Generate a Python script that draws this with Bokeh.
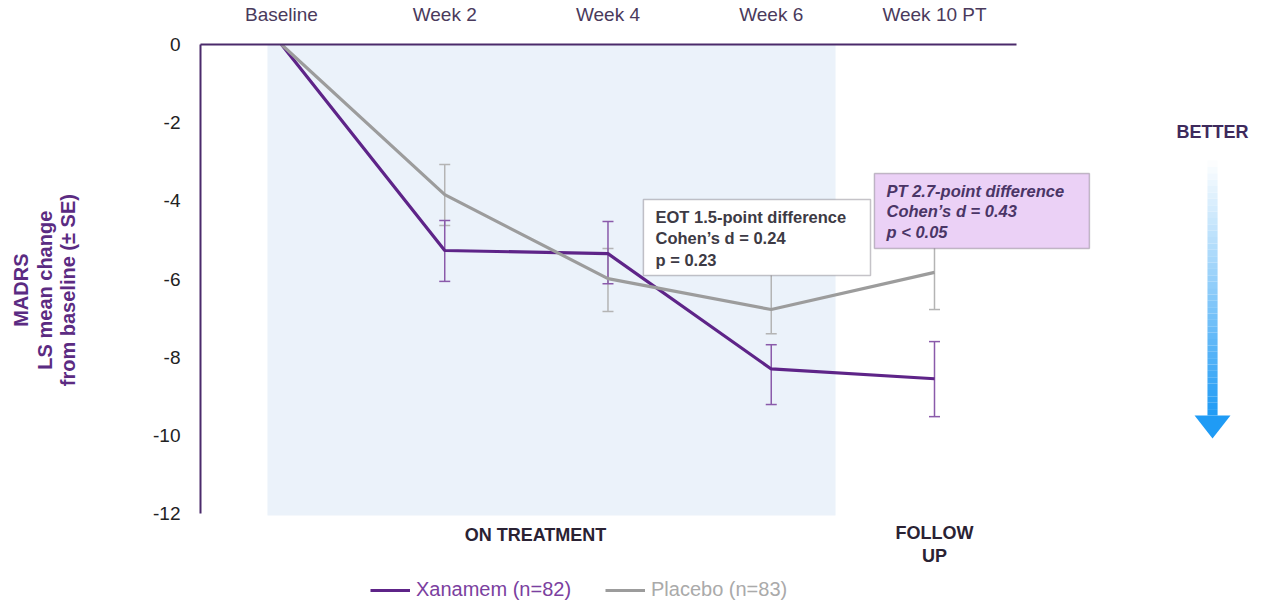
import math
from bokeh.plotting import figure
from bokeh.layouts import row
from bokeh.models import (Range1d, FixedTicker, BoxAnnotation, Label, Legend, LegendItem)
from bokeh.core.properties import value
from bokeh.embed import file_html
from bokeh.resources import INLINE

nan = float("nan")

# ---- data ----
visits = ["Baseline", "Week 2", "Week 4", "Week 6", "Week 10 PT"]
visit_x = [0, 1, 2, 3, 4]

xanamem_mean = [0.0, -5.27, -5.35, -8.30, -8.55]
xanamem_upper = [nan, -4.50, -4.53, -7.68, -7.60]
xanamem_lower = [nan, -6.06, -6.12, -9.21, -9.52]

placebo_mean = [0.0, -3.84, -5.99, -6.78, -5.83]
placebo_upper = [nan, -3.07, -5.22, -5.80, -4.88]
placebo_lower = [nan, -4.63, -6.83, -7.40, -6.78]

y_ticks = [0, -2, -4, -6, -8, -10, -12]
y_title = ["MADRS", "LS mean change", "from baseline (\u00b1 SE)"]

PURPLE = "#5e2488"
PURPLE_ERR = "#8a5aaa"
GRAY = "#9c9c9c"
GRAY_ERR = "#b4b4b4"
SANS = "Liberation Sans, Arial, sans-serif"

LEFT_W = 80

# ---- y-axis title panel ----
pl = figure(width=LEFT_W, height=603, output_backend="svg", toolbar_location=None,
            x_range=Range1d(0, LEFT_W), y_range=Range1d(0, 603),
            x_axis_type=None, y_axis_type=None, min_border=0)
pl.outline_line_color = None
pl.xgrid.visible = False
pl.ygrid.visible = False
pl.text(x=[20, 44, 67], y=[338, 338, 338], text=y_title, angle=math.pi / 2,
        text_font=value(SANS), text_font_style="bold", text_font_size="20px",
        text_color="#5b2b82", text_align="center", text_baseline="middle")

# ---- main chart ----
p = figure(width=1261 - LEFT_W, height=603, output_backend="svg", toolbar_location=None,
           x_range=Range1d(-0.496, 6.003), y_range=Range1d(-14.30, 0.0),
           x_axis_location="above",
           min_border_left=200 - LEFT_W, min_border_right=0, min_border_top=44,
           min_border_bottom=0)
p.outline_line_color = None
p.xgrid.visible = False
p.ygrid.visible = False
p.background_fill_color = "white"

xa = p.xaxis[0]
xa.ticker = FixedTicker(ticks=visit_x)
xa.major_label_overrides = {v: s for v, s in zip(visit_x, visits)}
xa.bounds = (-0.5, 4.5)
xa.axis_line_color = "#4b2a6b"
xa.axis_line_width = 2
xa.major_tick_line_color = None
xa.minor_tick_line_color = None
xa.major_label_standoff = 14
xa.major_label_text_font = SANS
xa.major_label_text_font_size = "19px"
xa.major_label_text_color = "#4a3a5c"

ya = p.yaxis[0]
ya.ticker = FixedTicker(ticks=y_ticks)
ya.major_label_overrides = {v: str(v) for v in y_ticks}
ya.bounds = (-12, 0)
ya.axis_line_color = "#4b2a6b"
ya.axis_line_width = 2
ya.major_tick_line_color = None
ya.minor_tick_line_color = None
ya.major_label_standoff = 14
ya.major_label_text_font = SANS
ya.major_label_text_font_size = "19px"
ya.major_label_text_color = "#222222"

# shaded on-treatment region
p.add_layout(BoxAnnotation(left=-0.086, right=3.394, top=0, bottom=-12.05,
                           fill_color="#ebf2fa", fill_alpha=1.0, line_color=None,
                           level="underlay"))

# error bars
p.segment(visit_x, placebo_upper, visit_x, placebo_lower, line_color=GRAY_ERR, line_width=1.5)
p.dash(visit_x, placebo_upper, size=11, line_color=GRAY_ERR, line_width=1.5)
p.dash(visit_x, placebo_lower, size=11, line_color=GRAY_ERR, line_width=1.5)
p.segment(visit_x, xanamem_upper, visit_x, xanamem_lower, line_color=PURPLE_ERR, line_width=1.5)
p.dash(visit_x, xanamem_upper, size=11, line_color=PURPLE_ERR, line_width=1.5)
p.dash(visit_x, xanamem_lower, size=11, line_color=PURPLE_ERR, line_width=1.5)

# lines
r_x = p.line(visit_x, xanamem_mean, line_color=PURPLE, line_width=3.2)
r_p = p.line(visit_x, placebo_mean, line_color=GRAY, line_width=3.2)

# annotation boxes
p.add_layout(BoxAnnotation(left=2.217, right=3.608, top=-3.966, bottom=-5.91,
                           fill_color="white", fill_alpha=1.0,
                           line_color="#3e3848", line_width=1.5))
p.add_layout(BoxAnnotation(left=3.632, right=4.949, top=-3.30, bottom=-5.22,
                           fill_color="#ebd1f6", fill_alpha=1.0,
                           line_color="#45404c", line_width=1.5))

eot_lines = ["EOT 1.5-point difference", "Cohen\u2019s d = 0.24", "p = 0.23"]
for t, yy in zip(eot_lines, [-4.40, -4.96, -5.50]):
    p.add_layout(Label(x=2.291, y=yy, text=t, text_font=SANS, text_font_style="bold",
                       text_font_size="16.5px", text_color="#3d3a44", text_baseline="middle"))
pt_lines = ["PT 2.7-point difference", "Cohen\u2019s d = 0.43", "p < 0.05"]
for t, yy in zip(pt_lines, [-3.74, -4.27, -4.79]):
    p.add_layout(Label(x=3.706, y=yy, text=t, text_font=SANS, text_font_style="bold italic",
                       text_font_size="16.5px", text_color="#4a3566", text_baseline="middle"))

# phase labels
for t, xx, yy in [("ON TREATMENT", 1.556, -12.56), ("FOLLOW", 4.0, -12.49), ("UP", 4.0, -13.08)]:
    p.add_layout(Label(x=xx, y=yy, text=t, text_font=SANS, text_font_style="bold",
                       text_font_size="18px", text_color="#2a2233", text_align="center",
                       text_baseline="middle"))

# BETTER arrow (decoration)
p.add_layout(Label(x=5.703, y=-2.226, text="BETTER", text_font=SANS, text_font_style="bold",
                   text_font_size="18px", text_color="#3e2a5c", text_align="center",
                   text_baseline="middle"))
ax_c, half_w = 5.703, 0.031
y_top, y_bot, y_tip = -2.97, -9.49, -10.08
n = 40
qt, qb, cols = [], [], []
for i in range(n):
    f0 = i / n
    f1 = (i + 1) / n
    qt.append(y_top + (y_bot - y_top) * f0)
    qb.append(y_top + (y_bot - y_top) * f1)
    f = (f0 + f1) / 2
    r = int(255 + (31 - 255) * f)
    g = int(255 + (155 - 255) * f)
    b = int(255 + (245 - 255) * f)
    cols.append("#%02x%02x%02x" % (r, g, b))
p.quad(left=[ax_c - half_w] * n, right=[ax_c + half_w] * n, top=qt, bottom=qb,
       fill_color=cols, line_color=None)
p.patch([ax_c - 0.110, ax_c + 0.110, ax_c], [y_bot, y_bot, y_tip],
        fill_color="#1f9bf5", line_color=None)

# legends
common = dict(orientation="horizontal", padding=0, margin=0, spacing=0,
              border_line_color=None, background_fill_alpha=0, glyph_width=40,
              glyph_height=20, label_height=20, label_standoff=6, label_text_font=SANS,
              label_text_font_size="20px")
lg1 = Legend(items=[LegendItem(label="Xanamem (n=82)", renderers=[r_x])],
             location=(170, 2), label_text_color="#7b3fa0", **common)
lg2 = Legend(items=[LegendItem(label="Placebo (n=83)", renderers=[r_p])],
             location=(405, 2), label_text_color="#aaaaaa", **common)
p.add_layout(lg1)
p.add_layout(lg2)

layout = row(pl, p, spacing=0)
open("out.html", "w").write(file_html(layout, INLINE))
